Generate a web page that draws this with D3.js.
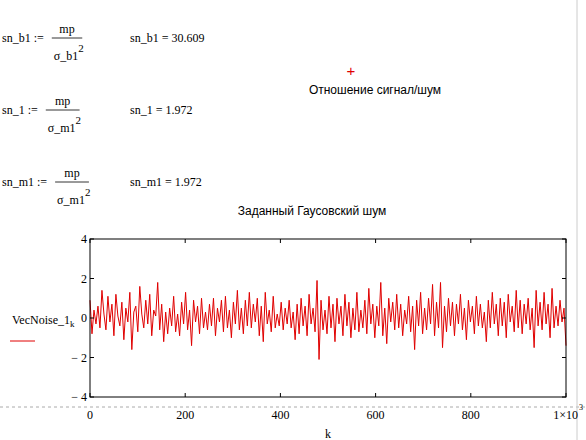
<!DOCTYPE html>
<html>
<head>
<meta charset="UTF-8">
<script src="https://d3js.org/d3.v7.min.js"></script>
<style>
  body { margin: 0; background: #fff; }
  svg { font-family: "Liberation Serif", serif; }
  .sans { font-family: Arial, "Liberation Sans", sans-serif; }
</style>
</head>
<body>
<svg width="586" height="440"></svg>
<script>
const noise = [
  0.9,-0.8,0.4,-0.3,0.6,-0.5,1.4,0.2,-0.6,1.1,-0.2,0.7,-0.9,1.2,0.1,-0.4,0.8,-1.1,0.5,-0.2,
  1.3,-1.6,0.3,0.6,-0.7,1.6,0.2,-0.5,0.9,-0.3,1.2,-0.9,0.4,0.1,1.8,-0.6,0.7,-1.2,0.3,-0.8,
  0.5,-0.4,1.1,-0.7,0.2,-0.9,0.8,-0.3,1.3,-0.6,0.4,-1.4,0.9,-0.2,0.6,-0.8,1.0,-0.5,0.3,-0.6,
  0.7,-0.4,1.0,-0.9,0.5,-0.2,0.9,-0.7,1.1,-0.5,0.4,-1.0,0.8,-0.3,1.4,-0.6,0.5,-0.8,0.9,-0.4,
  1.3,-0.5,0.7,-0.2,1.0,-0.9,0.6,-1.2,1.3,-0.3,0.4,-0.7,1.1,-0.5,0.2,-0.4,0.8,-0.6,0.5,-0.3,
  0.9,-0.5,0.3,-1.1,0.7,-0.8,1.0,-0.4,0.6,-0.9,1.2,-0.3,0.5,-0.7,1.9,-2.1,0.9,-0.6,0.4,-0.8,
  1.1,-0.5,0.7,-1.2,1.0,-0.3,0.6,-0.9,1.2,-0.4,0.8,-1.0,0.5,-0.6,1.3,-0.7,0.4,-0.5,0.9,-0.8,
  1.5,-0.3,0.7,-1.0,0.6,-0.4,1.8,-0.9,0.5,-1.3,1.0,-0.2,0.8,-0.6,1.2,-0.5,0.7,-0.9,0.4,-0.3,
  1.1,-0.7,0.6,-1.6,0.9,-0.4,1.3,-0.8,0.5,-0.6,1.0,-0.3,1.7,-0.9,0.8,-0.5,1.8,-1.5,0.6,-0.7,
  1.0,-0.4,0.8,-0.9,0.7,-0.3,1.2,-0.6,0.5,-1.1,0.9,-0.2,0.6,-0.8,1.1,-0.4,0.7,-0.5,0.3,-1.2,
  0.9,-0.5,1.3,-0.3,0.7,-0.9,1.0,-0.4,0.8,-1.0,1.2,-0.2,0.6,-0.7,1.4,-0.5,0.9,-0.8,0.7,-0.3,
  1.0,-0.6,0.5,-1.5,1.4,-0.4,0.8,-0.6,1.3,-0.3,0.7,-1.0,1.5,-0.5,0.6,-0.4,0.9,-0.2,0.5,-1.4
];
const yTicks = [-4, -2, 0, 2, 4];
const xTicks = [0, 200, 400, 600, 800, 1000];
const formulas = [
  { name: "sn_b1", den: "σ_b1", value: "30.609" },
  { name: "sn_1", den: "σ_m1", value: "1.972" },
  { name: "sn_m1", den: "σ_m1", value: "1.972" }
];

const svg = d3.select("svg");

// formulas block
formulas.forEach((f, i) => {
  const y0 = 38 + i * 72;
  const g = svg.append("g").attr("font-size", 12);
  const lhs = g.append("text").attr("x", 2).attr("y", y0 + 4).text(f.name + " :=");
  const w = lhs.node().getComputedTextLength();
  const fx = 2 + w + 8;
  const den = g.append("text").attr("x", fx + 2).attr("y", y0 + 22).text(f.den);
  const dw = den.node().getComputedTextLength();
  g.append("text").attr("x", fx + dw + 2).attr("y", y0 + 14).attr("font-size", 11).text("2");
  g.append("line").attr("x1", fx).attr("x2", fx + dw + 6)
    .attr("y1", y0).attr("y2", y0).attr("stroke", "#000").attr("stroke-width", 0.8);
  g.append("text").attr("x", fx + (dw + 6) / 2).attr("y", y0 - 5)
    .attr("text-anchor", "middle").text("mp");
  g.append("text").attr("x", 130).attr("y", y0 + 4).text(f.name + " = " + f.value);
});

// empty "signal/noise" plot marker
svg.append("text").attr("class", "sans").attr("x", 351).attr("y", 76)
  .attr("text-anchor", "middle").attr("fill", "#e00000").attr("font-size", 15).text("+");
svg.append("text").attr("class", "sans").attr("x", 375).attr("y", 94)
  .attr("text-anchor", "middle").attr("font-size", 12).text("Отношение сигнал/шум");

// noise chart
svg.append("text").attr("class", "sans").attr("x", 312).attr("y", 215)
  .attr("text-anchor", "middle").attr("font-size", 12).text("Заданный Гаусовский шум");

const L = 90, R = 566, T = 239, B = 397;
const x = d3.scaleLinear().domain([0, 1000]).range([L, R]);
const y = d3.scaleLinear().domain([-4, 4]).range([B, T]);
const kStep = 1000 / (noise.length - 1);

// page guide lines
svg.append("line").attr("x1", 0).attr("x2", 586).attr("y1", 407).attr("y2", 407)
  .attr("stroke", "#aaa").attr("stroke-dasharray", "3,3");
svg.append("line").attr("x1", 577).attr("x2", 577).attr("y1", 0).attr("y2", 440)
  .attr("stroke", "#ccc");

svg.append("path").datum(noise)
  .attr("fill", "none").attr("stroke", "#e00000").attr("stroke-width", 1)
  .attr("d", d3.line().x((d, i) => x(i * kStep)).y(d => y(d)));

svg.append("rect").attr("x", L).attr("y", T).attr("width", R - L).attr("height", B - T)
  .attr("fill", "none").attr("stroke", "#000");

const ax = svg.append("g").attr("font-size", 12);
xTicks.forEach(t => {
  ax.append("line").attr("x1", x(t)).attr("x2", x(t)).attr("y1", B).attr("y2", B - 4).attr("stroke", "#000");
  ax.append("line").attr("x1", x(t)).attr("x2", x(t)).attr("y1", T).attr("y2", T + 4).attr("stroke", "#000");
  if (t === 1000) {
    ax.append("text").attr("x", 578).attr("y", 419).attr("text-anchor", "end").text("1×10");
  } else {
    ax.append("text").attr("x", x(t)).attr("y", 419).attr("text-anchor", "middle").text(t);
  }
});
ax.append("text").attr("x", 579).attr("y", 410).attr("font-size", 8).text("3");
yTicks.forEach(t => {
  ax.append("line").attr("x1", L).attr("x2", L + 4).attr("y1", y(t)).attr("y2", y(t)).attr("stroke", "#000");
  ax.append("line").attr("x1", R).attr("x2", R - 4).attr("y1", y(t)).attr("y2", y(t)).attr("stroke", "#000");
  ax.append("text").attr("x", L - 3).attr("y", y(t) + 4).attr("text-anchor", "end")
    .text(t < 0 ? "− " + Math.abs(t) : t);
});
ax.append("text").attr("x", 328).attr("y", 438).attr("text-anchor", "middle").text("k");

// legend
const lg = svg.append("text").attr("x", 12).attr("y", 324).attr("font-size", 12);
lg.append("tspan").text("VecNoise_1");
lg.append("tspan").attr("font-size", 9).attr("dy", 3).text("k");
svg.append("line").attr("x1", 10).attr("x2", 35).attr("y1", 341).attr("y2", 341)
  .attr("stroke", "#e00000");
</script>
</body>
</html>
